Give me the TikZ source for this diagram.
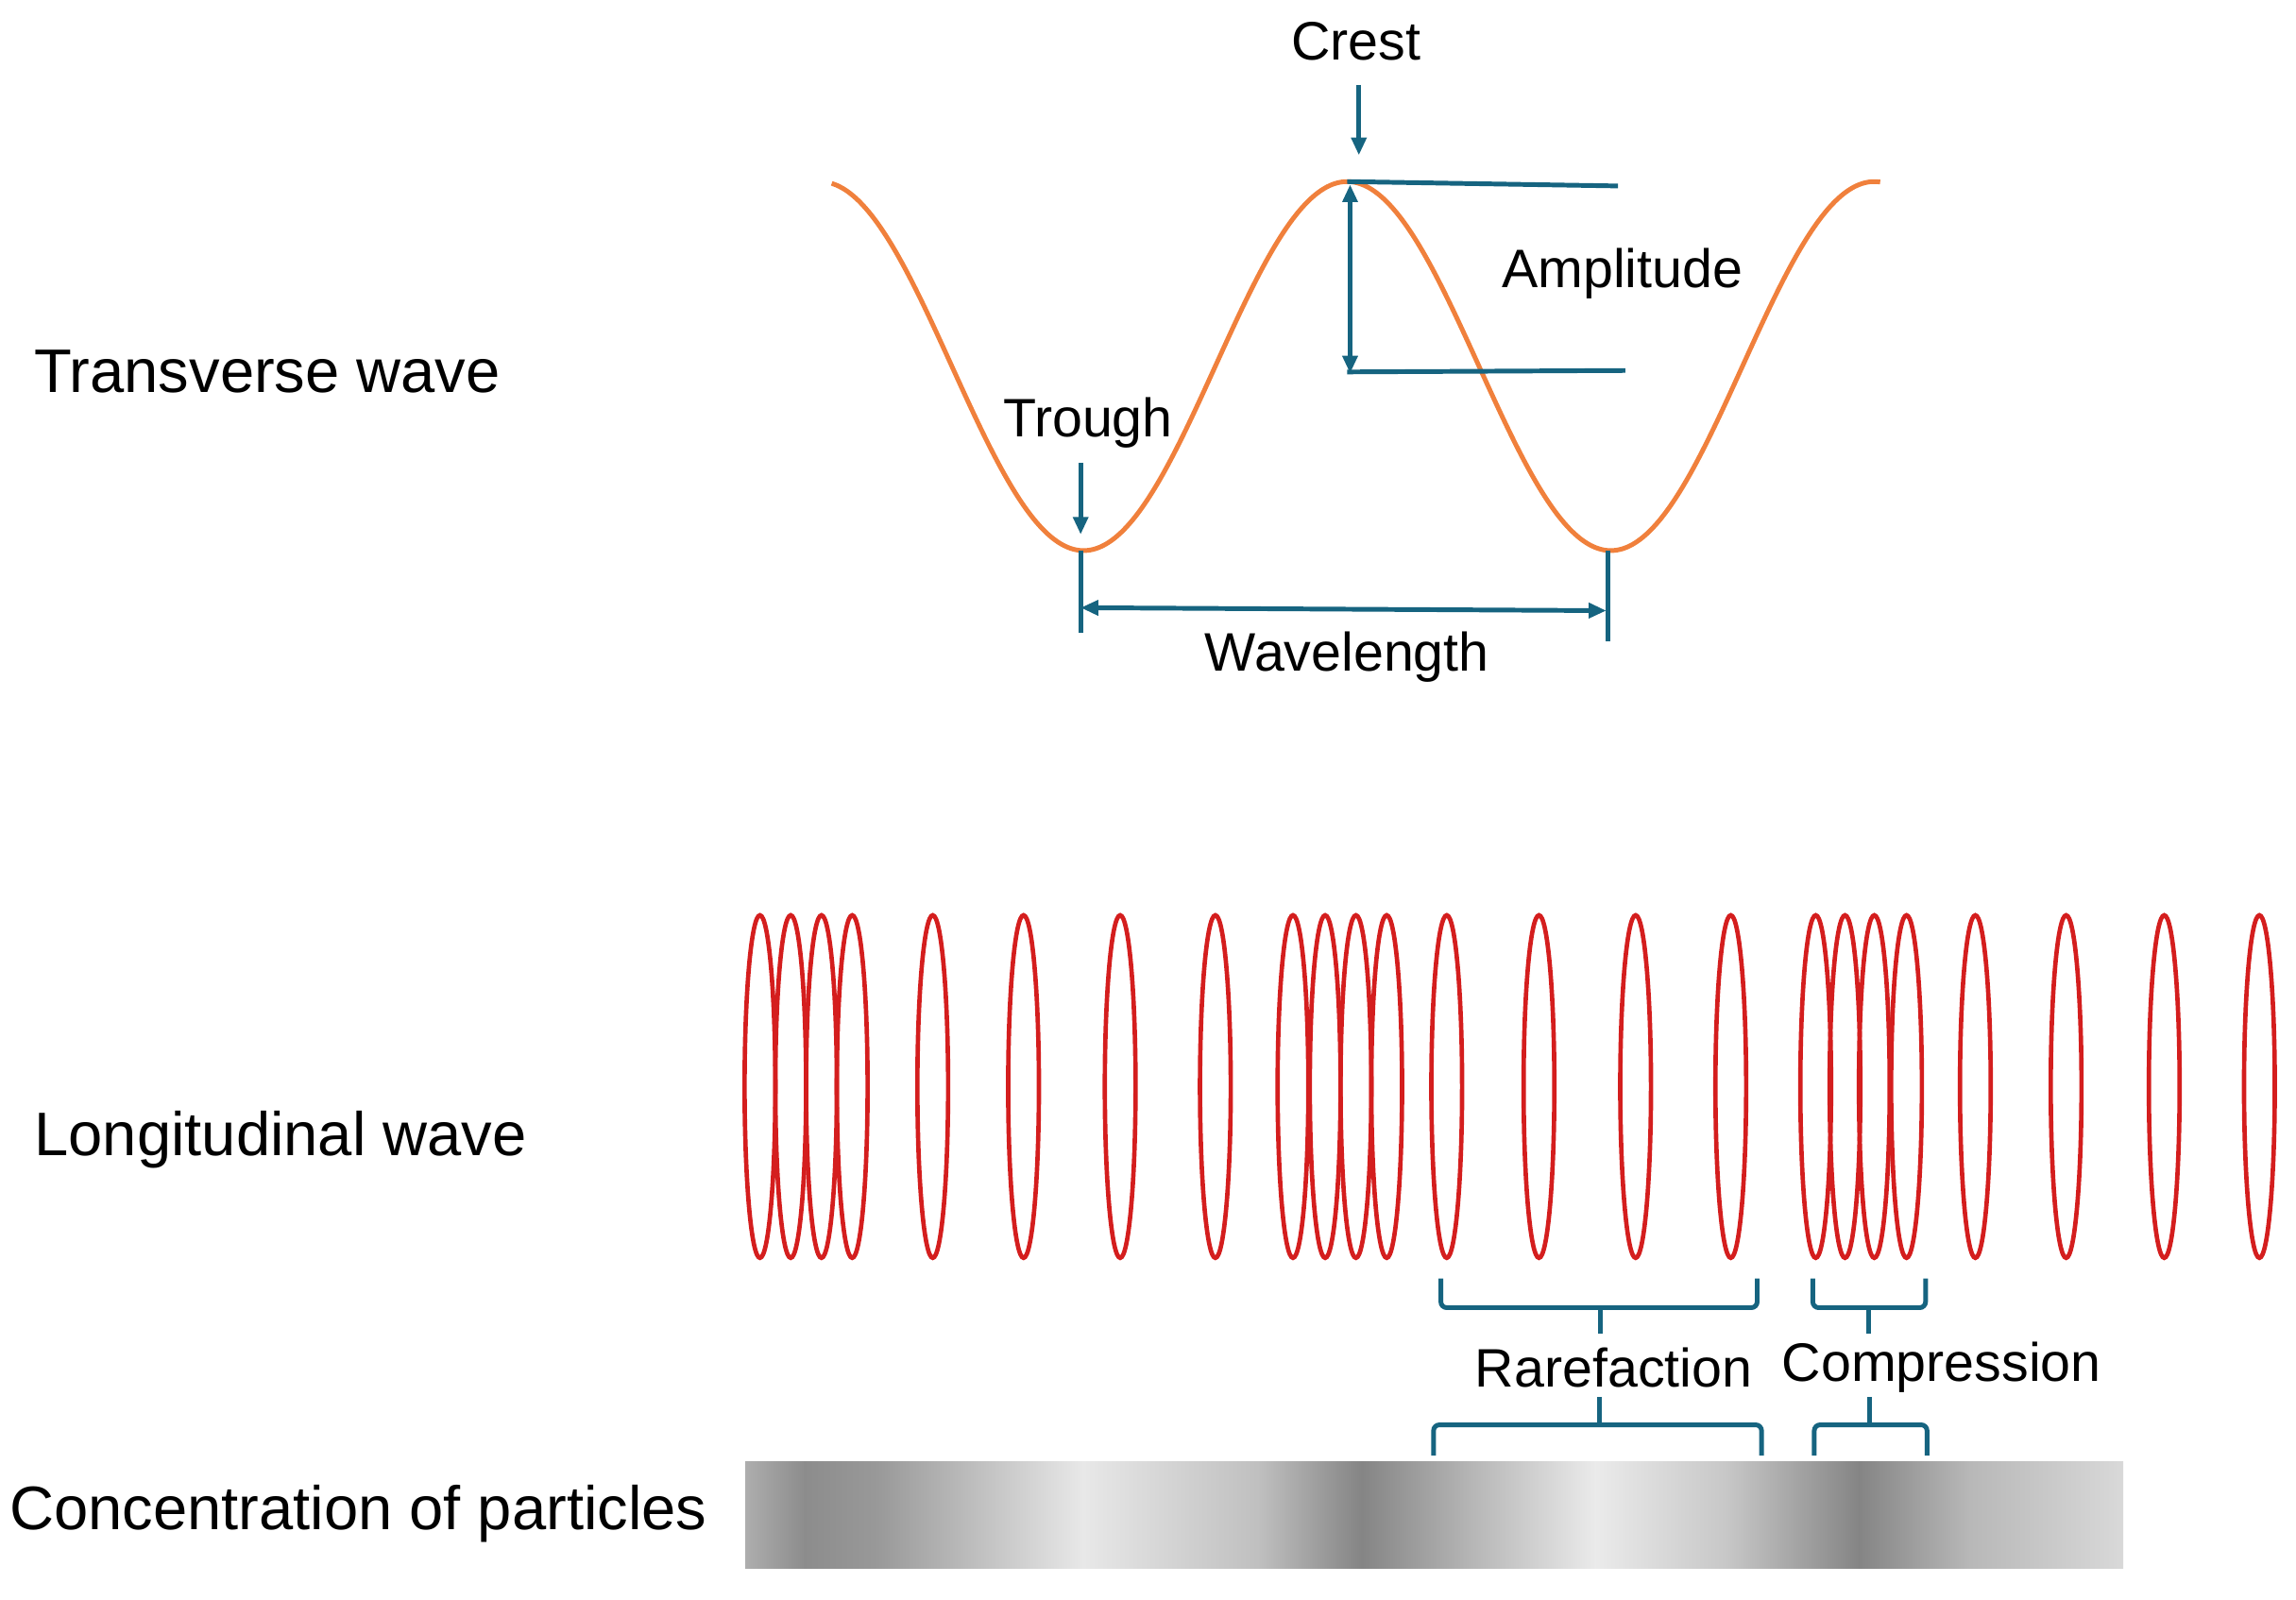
\documentclass[tikz,border=0pt]{standalone}
\usepackage{fontspec}
\setmainfont{Liberation Sans}
\usetikzlibrary{arrows.meta}
\definecolor{teal1}{RGB}{22,100,128}
\definecolor{wave}{RGB}{240,128,60}
\definecolor{coil}{RGB}{212,30,30}
\begin{document}
\begin{tikzpicture}[x=1pt,y=-1pt,
  big/.style={font=\fontsize{42}{48}\selectfont,anchor=west},
  lab/.style={font=\fontsize{37}{42}\selectfont},
  dim/.style={teal1,line width=3.2pt},
  arr/.style={dim,-{Triangle[length=12pt,width=10pt]}},
  brace/.style={teal1,line width=3.2pt,rounded corners=4pt},
  ring/.style={coil,line width=3pt}]
\useasboundingbox (0,0) rectangle (1568,1092);
% labels left
\node[big] (tw) at (20,254) {Transverse wave};
\node[big] (lw) at (20,778) {Longitudinal wave};
\node[big] (cp) at (3,1034) {Concentration of particles};
% wave
\draw[wave,line width=3.2pt,domain=-352:364,samples=200,smooth] plot ({\x+920},{250-126*cos(\x)});
\coordinate (crest) at (920,124);
\coordinate (tr1) at (738,376);
\coordinate (tr2) at (1098,376);
% crest
\node[lab] (cl) at (926,28) {Crest};
\coordinate (ca) at (928,58); \coordinate (cb) at (928,106);
\draw[arr] (ca) -- (cb);
% amplitude
\coordinate (a1) at (1105,127); \coordinate (a0) at (920,254); \coordinate (a2) at (1110,253);
\draw[dim] (crest) -- (a1);
\draw[dim] (a0) -- (a2);
\coordinate (d1) at (922,126); \coordinate (d2) at (922,255);
\draw[dim,{Triangle[length=12pt,width=10pt]}-{Triangle[length=12pt,width=10pt]}] (d1) -- (d2);
\node[lab] (al) at (1108,187) {Amplitude};
% trough
\node[lab] (tl) at (743,289) {Trough};
\coordinate (ta) at (738,316); \coordinate (tb) at (738,365);
\draw[arr] (ta) -- (tb);
% wavelength
\coordinate (w1) at (738,432); \coordinate (w2) at (1098,438);
\draw[dim] (tr1) -- (w1);
\draw[dim] (tr2) -- (w2);
\coordinate (wa) at (738,415); \coordinate (wb) at (1097,417);
\draw[dim,{Triangle[length=12pt,width=10pt]}-{Triangle[length=12pt,width=10pt]}] (wa) -- (wb);
\node[lab] (wl) at (920,449) {Wavelength};
% coils
\foreach \c in {519,540,561,582,637,699,765,830,883,905,926,947,988,1051,1117,1182,1240,1260,1280,1302,1349,1411,1478,1543}
  \draw[ring] (\c,742) ellipse [x radius=10.5,y radius=117];
% top braces
\draw[brace] (984,873) -- (984,893) -- (1200,893) -- (1200,873);
\draw[brace] (1093,893) -- (1093,911);
\draw[brace] (1238,873) -- (1238,893) -- (1315,893) -- (1315,873);
\draw[brace] (1276,893) -- (1276,911);
\node[lab] (rl) at (1102,934) {Rarefaction};
\node[lab] (cl2) at (1326,934) {Compression};
% bottom braces
\draw[brace] (979,994) -- (979,973) -- (1203,973) -- (1203,994);
\draw[brace] (1092,973) -- (1092,954);
\draw[brace] (1239,994) -- (1239,973) -- (1316,973) -- (1316,994);
\draw[brace] (1277,973) -- (1277,954);
% concentration bar
\def\seg#1#2#3#4{\shade[left color=#3,right color=#4] (#1,998) rectangle (#2,1071);}
\seg{509}{550}{black!32}{black!45}
\seg{549.5}{600}{black!45}{black!40}
\seg{599.5}{740}{black!40}{black!9}
\seg{739.5}{860}{black!9}{black!25}
\seg{859.5}{930}{black!25}{black!48}
\seg{929.5}{1000}{black!48}{black!30}
\seg{999.5}{1090}{black!30}{black!8}
\seg{1089.5}{1180}{black!8}{black!22}
\seg{1179.5}{1270}{black!22}{black!48}
\seg{1269.5}{1345}{black!48}{black!28}
\seg{1344.5}{1450}{black!28}{black!15}
\end{tikzpicture}
\end{document}
